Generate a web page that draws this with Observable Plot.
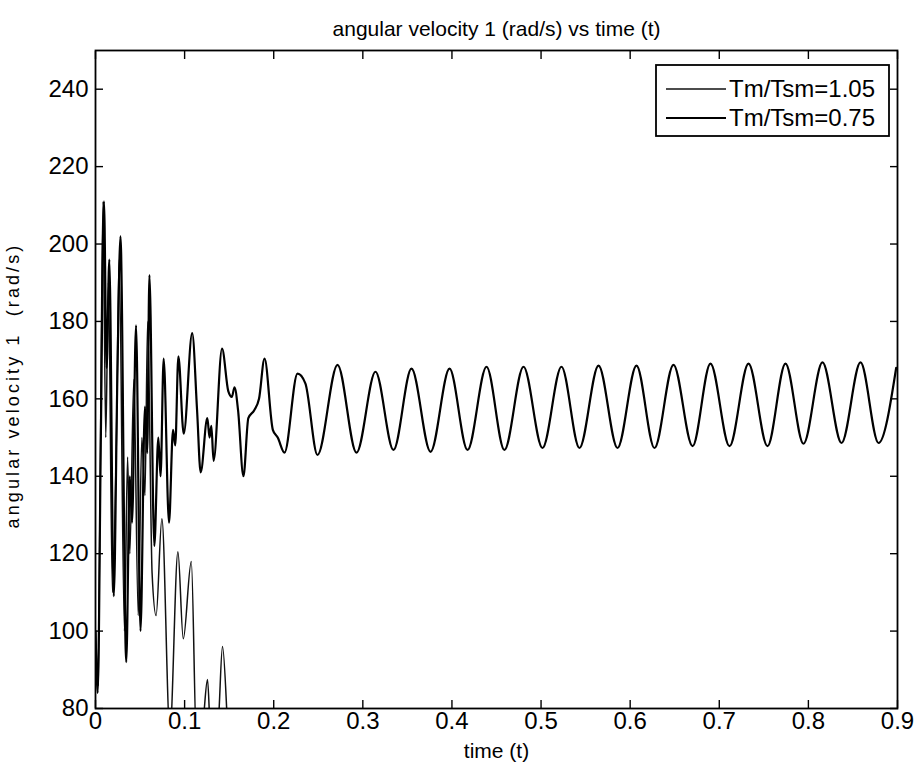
<!DOCTYPE html>
<html>
<head>
<meta charset="utf-8">
<script src="https://cdn.jsdelivr.net/npm/d3@7"></script>
<script src="https://cdn.jsdelivr.net/npm/@observablehq/plot@0.6"></script>
<style>
  body { margin: 0; background: #fff; }
  #chart svg { display: block; }
</style>
</head>
<body>
<div id="chart"></div>
<script>
// ---------- data ----------
const titleText = "angular velocity 1 (rad/s) vs time (t)";
const xLabelText = "time (t)";
const yLabelText = "angular velocity 1  (rad/s)";
const seriesNames = ["Tm/Tsm=1.05", "Tm/Tsm=0.75"];

const xTicks = [0, 0.1, 0.2, 0.3, 0.4, 0.5, 0.6, 0.7, 0.8, 0.9];
const xTickLabels = ["0", "0.1", "0.2", "0.3", "0.4", "0.5", "0.6", "0.7", "0.8", "0.9"];
const yTicks = [80, 100, 120, 140, 160, 180, 200, 220, 240];
const yTickLabels = ["80", "100", "120", "140", "160", "180", "200", "220", "240"];

// Tm/Tsm = 1.05 (loses synchronism, falls below the axis)
const time105 = [0, 0.003, 0.0065, 0.0085, 0.0115, 0.0145, 0.019, 0.0235, 0.0265, 0.0325,
  0.036, 0.0385, 0.043, 0.048, 0.052, 0.0555, 0.0585, 0.0635, 0.068, 0.0745, 0.0835,
  0.0925, 0.0985, 0.1075, 0.1135, 0.1205, 0.1257, 0.1295, 0.1375, 0.1425, 0.149, 0.158];
const omega105 = [100, 86, 175, 211, 150, 190, 110, 150, 196, 100,
  145, 120, 165, 104, 150, 135, 180, 115, 104, 129, 74,
  120.5, 98, 118, 70, 76, 87.5, 72, 76, 96, 72, 40];

// Tm/Tsm = 0.75 (settles into a steady oscillation)
const time075 = [0, 0.0025, 0.006, 0.0095, 0.0125, 0.0155, 0.0205, 0.0245, 0.028, 0.0345,
  0.0385, 0.041, 0.0455, 0.0505, 0.0555, 0.058, 0.0605, 0.066, 0.0705, 0.073, 0.0765,
  0.0825, 0.087, 0.0895, 0.093, 0.099, 0.1085, 0.114, 0.118, 0.1255, 0.128, 0.130, 0.1325,
  0.142, 0.149, 0.153, 0.156, 0.160, 0.166, 0.1715, 0.178, 0.1835, 0.1897, 0.199, 0.2045,
  0.2121, 0.2267, 0.2355, 0.2491, 0.2716, 0.2929, 0.3142, 0.3344, 0.3546, 0.3760, 0.3973,
  0.4175, 0.4388, 0.4589, 0.4803, 0.5016, 0.5229, 0.5431, 0.5645, 0.5858, 0.6071, 0.6273,
  0.6486, 0.6700, 0.6901, 0.7115, 0.7328, 0.7541, 0.7743, 0.7945, 0.8158, 0.8372, 0.8585,
  0.8787, 0.8985];
const omega075 = [100, 84, 150, 211, 168, 196, 109, 165, 202, 92,
  140, 128, 179, 100, 158, 146, 192, 122, 150, 140, 170.4,
  128, 152, 148, 171, 151, 177, 157, 141, 155, 150, 153, 144,
  173, 162, 160.5, 163, 157, 140, 155, 157, 160, 170.4, 152, 150,
  146.1, 166.5, 164, 145.5, 168.8, 146.1, 167.0, 146.8, 167.8, 146.3, 167.8,
  146.8, 168.3, 146.8, 168.3, 147.3, 168.3, 147.3, 168.6, 147.3, 168.6, 147.3,
  168.8, 147.8, 169.1, 147.8, 169.1, 147.8, 169.1, 148.4, 169.4, 148.6, 169.4,
  148.6, 168];

// ---------- build rows ----------
const rows105 = time105.map((t, i) => ({series: seriesNames[0], t, v: omega105[i]}));
const rows075 = time075.map((t, i) => ({series: seriesNames[1], t, v: omega075[i]}));

const FONT = "'Liberation Sans', Arial, Helvetica, sans-serif";
const W = 915, H = 772;
const M = {top: 50, right: 18, bottom: 64, left: 95};

const xFmt = d => xTickLabels[xTicks.indexOf(d)];
const yFmt = d => yTickLabels[yTicks.indexOf(d)];

const chart = Plot.plot({
  width: W,
  height: H,
  marginTop: M.top,
  marginRight: M.right,
  marginBottom: M.bottom,
  marginLeft: M.left,
  style: {fontFamily: FONT, background: "white", color: "black", overflow: "visible"},
  x: {domain: [0, 0.9]},
  y: {domain: [80, 250]},
  marks: [
    Plot.line(rows105, {x: "t", y: "v", stroke: "#111", strokeWidth: 1.5, curve: "monotone-x", clip: true}),
    Plot.line(rows075, {x: "t", y: "v", stroke: "black", strokeWidth: 2.2, curve: "monotone-x", clip: true}),
    Plot.frame({stroke: "black", strokeWidth: 1.8}),
    // inward ticks on all four sides
    Plot.axisX(xTicks, {anchor: "bottom", tickSize: 8, insetBottom: 8, fill: "none", label: null, strokeWidth: 1.4}),
    Plot.axisX(xTicks, {anchor: "top", tickSize: 8, insetTop: 8, fill: "none", label: null, strokeWidth: 1.4}),
    Plot.axisY(yTicks, {anchor: "left", tickSize: 8, insetLeft: 8, fill: "none", label: null, strokeWidth: 1.4}),
    Plot.axisY(yTicks, {anchor: "right", tickSize: 8, insetRight: 8, fill: "none", label: null, strokeWidth: 1.4}),
    // tick labels
    Plot.axisX(xTicks, {anchor: "bottom", tickSize: 0, tickPadding: 3, fontSize: 24, label: null, tickFormat: xFmt}),
    Plot.axisY(yTicks, {anchor: "left", tickSize: 0, tickPadding: 7, fontSize: 24, label: null, tickFormat: yFmt}),
    // titles
    Plot.text([titleText], {frameAnchor: "top", dy: -29, fontSize: 21, text: d => d}),
    Plot.text([xLabelText], {frameAnchor: "bottom", dy: 49, fontSize: 21, text: d => d}),
    Plot.text([yLabelText], {frameAnchor: "left", dx: -82, dy: 6, rotate: -90, fontSize: 18, text: d => d,
      textAnchor: "middle", className: "ylab"})
  ]
});

document.getElementById("chart").appendChild(chart);

const svg = d3.select(chart);
svg.selectAll(".ylab text").attr("letter-spacing", "3.1px");

// ---------- legend (inside the axes, top right) ----------
const legW = 233, legH = 71;
const legX = W - M.right - 8 - legW, legY = M.top + 15;
const lg = svg.append("g").attr("transform", `translate(${legX},${legY})`);
lg.append("rect").attr("width", legW).attr("height", legH)
  .attr("fill", "white").attr("stroke", "black").attr("stroke-width", 1.8);
const legStroke = [{c: "#111", w: 1.5}, {c: "black", w: 2.2}];
seriesNames.forEach((name, i) => {
  const cy = 24 + i * 29;
  lg.append("line").attr("x1", 10).attr("x2", 70).attr("y1", cy).attr("y2", cy)
    .attr("stroke", legStroke[i].c).attr("stroke-width", legStroke[i].w);
  lg.append("text").attr("x", 73).attr("y", cy).attr("dy", "0.35em")
    .attr("text-anchor", "start")
    .attr("font-family", FONT).attr("font-size", 24).attr("fill", "black").text(name);
});
</script>
</body>
</html>
